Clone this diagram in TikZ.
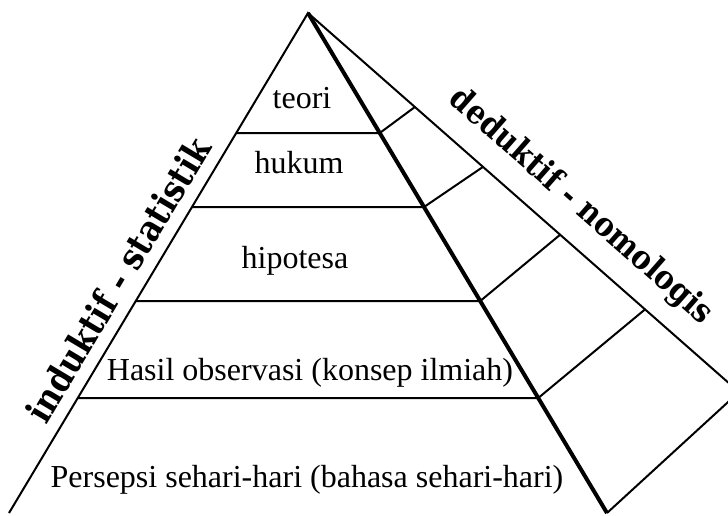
\documentclass[tikz,border=0pt]{standalone}
\usepackage{fontspec}
\setmainfont{Liberation Serif}
\newfontfamily\sidefont[FakeStretch=0.88]{DejaVu Serif}
\usetikzlibrary{calc}

\begin{document}
\begin{tikzpicture}
			[x=0.5pt,y=-0.5pt,
			 lvl/.style= {font=\fontsize{16}{19}\selectfont,anchor=base,inner sep=0pt},
			 side/.style= {font=\sidefont\bfseries\fontsize{#1}{21}\selectfont,sloped,above=6pt,inner sep=0pt},
			 side/.default=18,
			 thin edge/.style= {line width=1pt},
			 thick edge/.style= {line width=2pt}]

			\useasboundingbox (0,0) rectangle (728,515);
			\clip (0,0) rectangle (728,515);

			\coordinate (A) at (308,13);
			\coordinate (L) at (9,513);
			\coordinate (F) at (607,513);
			\coordinate (C) at (739,392);

			\draw[thin edge] (L) -- (A) -- (C) -- (F);
			\draw[thick edge] (A) -- (F);

			\foreach \n/\fa/\ba in {1/0.24/0.248, 2/0.388/0.406, 3/0.576/0.585, 4/0.77/0.782} {
				\coordinate (l\n) at ($(A)!\fa!(L)$);
				\coordinate (f\n) at ($(A)!\fa!(F)$);
				\coordinate (b\n) at ($(A)!\ba!(C)$);
				\draw[thin edge] (l\n) -- (f\n) -- (b\n);
			}

			\node[lvl] (teori) at (302,108) {teori};
			\node[lvl] (hukum) at (299,173) {hukum};
			\node[lvl] (hipotesa) at (295,268) {hipotesa};
			\node[lvl] (hasil) at (310,380) {Hasil observasi (konsep ilmiah)};
			\node[lvl] (persepsi) at (307,487) {Persepsi sehari-hari (bahasa sehari-hari)};

			\path (L) -- (A) node[side,pos=0.44] (induktif) {induktif - statistik};
			\path (A) -- (C) node[side=16.5,above=3pt,pos=0.58] (deduktif) {deduktif - nomologis};

		\end{tikzpicture}
\end{document}
